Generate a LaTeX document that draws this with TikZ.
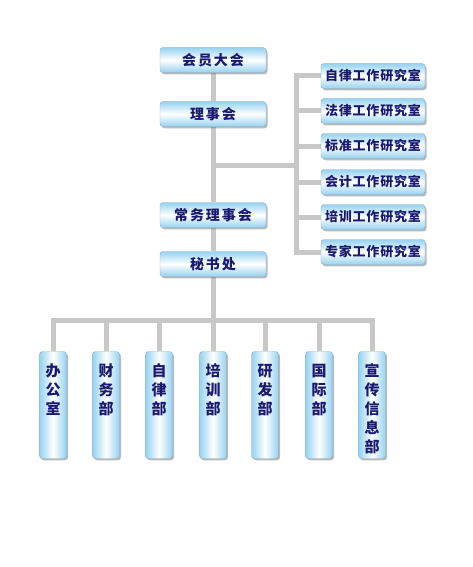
\documentclass[tikz,border=0pt]{standalone}
\usepackage{fontspec}
\usetikzlibrary{shadows}
\newfontfamily\cjkA[LetterSpace=14]{Noto Sans CJK SC}
\newfontfamily\cjkB[LetterSpace=6]{Noto Sans CJK SC}
\newfontfamily\cjkC{Noto Sans CJK SC}
\definecolor{navy}{RGB}{25,25,110}
\definecolor{boxblue}{RGB}{150,210,240}
\definecolor{boxedge}{RGB}{130,175,205}
\definecolor{linegray}{RGB}{200,200,200}
\pgfdeclarelayer{background}
\pgfsetlayers{background,main}
\tikzset{
  conn/.style={draw=linegray, line width=5pt},
  boxbase/.style={draw=boxedge, line width=0.4pt, rounded corners=3pt, text=navy, inner sep=0pt,
    drop shadow={shadow xshift=1.5pt, shadow yshift=-1.8pt, opacity=0.45, fill=black!60}},
  mainbox/.style={boxbase, top color=boxblue, bottom color=boxblue, middle color=white,
    minimum width=106pt, minimum height=25pt, font=\cjkA\bfseries\fontsize{14}{16}\selectfont},
  roombox/.style={boxbase, top color=boxblue, bottom color=boxblue, middle color=white,
    minimum width=104pt, minimum height=25pt, font=\cjkB\bfseries\fontsize{13}{15}\selectfont},
  deptbox/.style={boxbase, left color=boxblue, right color=boxblue, middle color=white,
    minimum width=27pt, minimum height=107pt, font=\cjkC\bfseries\fontsize{15}{19}\selectfont},
}
\newcommand{\vtext}[1]{\parbox[c][82pt][t]{18pt}{\centering #1}}
\begin{document}
\begin{tikzpicture}[x=1pt,y=-1pt]
\useasboundingbox (0,0) rectangle (472,567);
% main column
\node[mainbox] (h1) at (213,60) {会员大会};
\node[mainbox] (h2) at (213,114) {理事会};
\node[mainbox] (h3) at (213,215) {常务理事会};
\node[mainbox] (h4) at (213,264) {秘书处};
% research rooms
\node[roombox] (r1) at (373,76) {自律工作研究室};
\node[roombox] (r2) at (373,111) {法律工作研究室};
\node[roombox] (r3) at (373,146) {标准工作研究室};
\node[roombox] (r4) at (373,182) {会计工作研究室};
\node[roombox] (r5) at (373,217) {培训工作研究室};
\node[roombox] (r6) at (373,252) {专家工作研究室};
% departments
\node[deptbox] (d1) at (53,405) {\vtext{办\\公\\室}};
\node[deptbox] (d2) at (106,405) {\vtext{财\\务\\部}};
\node[deptbox] (d3) at (159,405) {\vtext{自\\律\\部}};
\node[deptbox] (d4) at (213,405) {\vtext{培\\训\\部}};
\node[deptbox] (d5) at (265,405) {\vtext{研\\发\\部}};
\node[deptbox] (d6) at (319,405) {\vtext{国\\际\\部}};
\node[deptbox] (d7) at (372,405) {\vtext{宣\\传\\信\\息\\部}};
% junction points
\coordinate (jl) at (213,165);
\coordinate (jr) at (296,165);
\coordinate (bus) at (213,320);
\begin{pgfonlayer}{background}
\draw[conn] (h1.south) -- (h2.north);
\draw[conn] (h2.south) -- (h3.north);
\draw[conn] (h3.south) -- (h4.north);
\draw[conn] (h4.south) -- (bus);
\draw[conn] (jl) -- (jr);
\draw[conn] (r1.west) -- (r1.west -| jr) -- (r6.west -| jr) -- (r6.west);
\draw[conn] (r2.west -| jr) -- (r2.west);
\draw[conn] (r3.west -| jr) -- (r3.west);
\draw[conn] (r4.west -| jr) -- (r4.west);
\draw[conn] (r5.west -| jr) -- (r5.west);
\draw[conn] (d1.north) -- (d1.north |- bus) -- (d7.north |- bus) -- (d7.north);
\draw[conn] (d2.north |- bus) -- (d2.north);
\draw[conn] (d3.north |- bus) -- (d3.north);
\draw[conn] (d4.north |- bus) -- (d4.north);
\draw[conn] (d5.north |- bus) -- (d5.north);
\draw[conn] (d6.north |- bus) -- (d6.north);
\end{pgfonlayer}
\end{tikzpicture}
\end{document}
